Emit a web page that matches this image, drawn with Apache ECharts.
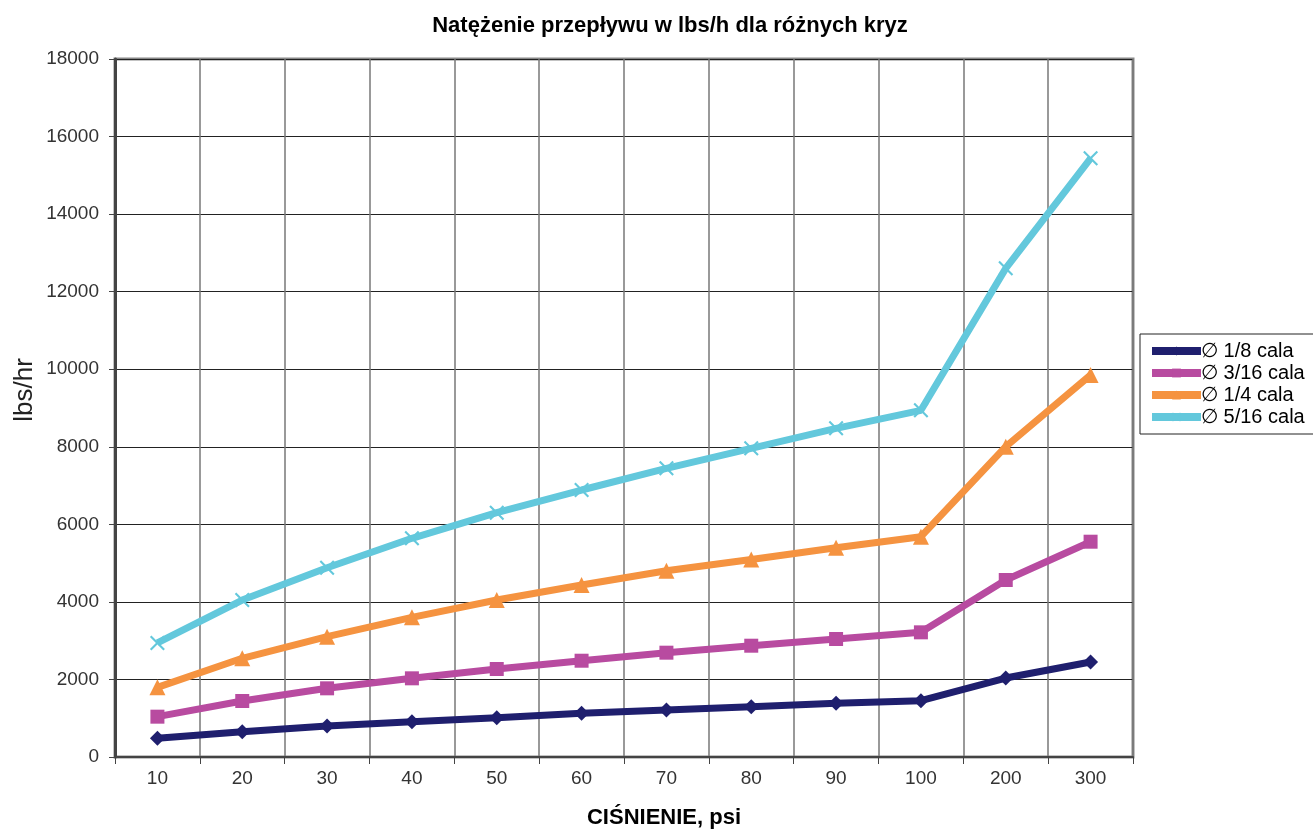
<!DOCTYPE html>
<html>
<head>
<meta charset="utf-8">
<script src="https://cdn.jsdelivr.net/npm/echarts@6/dist/echarts.min.js"></script>
<style>
  html, body { margin: 0; padding: 0; background: #fff; }
  #chart { width: 1313px; height: 830px; }
</style>
</head>
<body>
<div id="chart"></div>
<script>
// Pressure categories (psi)
const pressures = ['10', '20', '30', '40', '50', '60', '70', '80', '90', '100', '200', '300'];

// Flow rate in lbs/hr for each orifice size
const flow_1_8  = [482, 653, 800, 911, 1014, 1126, 1212, 1298, 1384, 1452, 2037, 2450];
const flow_3_16 = [1040, 1444, 1771, 2029, 2269, 2483, 2690, 2870, 3043, 3215, 4564, 5552];
const flow_1_4  = [1797, 2545, 3103, 3602, 4048, 4435, 4804, 5093, 5397, 5681, 8002, 9850];
const flow_5_16 = [2940, 4048, 4880, 5640, 6300, 6885, 7444, 7960, 8475, 8940, 12601, 15438];

const seriesNames = ['\u2205 1/8 cala', '\u2205 3/16 cala', '\u2205 1/4 cala', '\u2205 5/16 cala'];

const FONT = '"Liberation Sans", Arial, sans-serif';
const crossSymbol = 'path://M0,1 L1,0 L5,4 L9,0 L10,1 L6,5 L10,9 L9,10 L5,6 L1,10 L0,9 L4,5 Z';

function lineSeries(name, data, color, symbol, size) {
  return {
    name: name,
    type: 'line',
    data: data,
    symbol: symbol,
    symbolSize: size,
    showAllSymbol: true,
    lineStyle: { color: color, width: 7 },
    itemStyle: { color: color },
    emphasis: { disabled: true },
    z: 3
  };
}

const chart = echarts.init(document.getElementById('chart'));
chart.setOption({
  animation: false,
  backgroundColor: '#fff',
  textStyle: { fontFamily: FONT },
  title: {
    text: 'Natężenie przepływu w lbs/h dla różnych kryz',
    left: 665, top: 10, textAlign: 'center',
    textStyle: { fontFamily: FONT, fontSize: 22, fontWeight: 'bold', color: '#000' }
  },
  graphic: [
    {
      type: 'text',
      x: 25, y: 390, rotation: Math.PI / 2,
      style: {
        text: 'lbs/hr', fontFamily: FONT, fontSize: 26, fill: '#222',
        align: 'center', verticalAlign: 'middle'
      }
    },
    {
      type: 'text',
      x: 664, y: 818,
      style: {
        text: 'CIŚNIENIE, psi', fontFamily: FONT, fontSize: 22, fontWeight: 'bold', fill: '#000',
        align: 'center', verticalAlign: 'middle'
      }
    }
  ],
  legend: {
    orient: 'vertical',
    left: 1140, top: 334,
    padding: [6, 12, 6, 8],
    itemGap: 0,
    itemWidth: 49, itemHeight: 11,
    borderColor: '#222', borderWidth: 1,
    lineStyle: { width: 8 },
    textStyle: { fontFamily: FONT, fontSize: 20, color: '#000', lineHeight: 22, padding: [0, 0, 0, -5] },
    data: seriesNames
  },
  grid: {
    left: 115, right: 180, top: 59, bottom: 73,
    show: true, borderColor: '#888', borderWidth: 3,
    containLabel: false
  },
  xAxis: {
    type: 'category',
    data: pressures,
    boundaryGap: true,
    axisLine: { show: true, lineStyle: { color: '#444', width: 2 } },
    axisTick: { show: true, length: 7, lineStyle: { color: '#444', width: 1 } },
    axisLabel: { fontFamily: FONT, fontSize: 19, color: '#333', margin: 12 },
    splitLine: { show: true, lineStyle: { color: '#777', width: 1.5 } }
  },
  yAxis: {
    type: 'value',
    min: 0, max: 18000, interval: 2000,
    axisLine: { show: true, lineStyle: { color: '#444', width: 3 } },
    axisTick: { show: true, length: 6, lineStyle: { color: '#444', width: 1 } },
    axisLabel: {
      fontFamily: FONT, fontSize: 19, color: '#333', margin: 16,
      formatter: function (v) { return String(v); }
    },
    splitLine: { show: true, lineStyle: { color: '#222', width: 1 } }
  },
  series: [
    lineSeries(seriesNames[0], flow_1_8,  '#1f1f6e', 'diamond', 15),
    lineSeries(seriesNames[1], flow_3_16, '#b84ba0', 'rect', 14),
    lineSeries(seriesNames[2], flow_1_4,  '#f59340', 'triangle', 16),
    lineSeries(seriesNames[3], flow_5_16, '#63c8dc', crossSymbol, 15)
  ]
});
</script>
</body>
</html>
